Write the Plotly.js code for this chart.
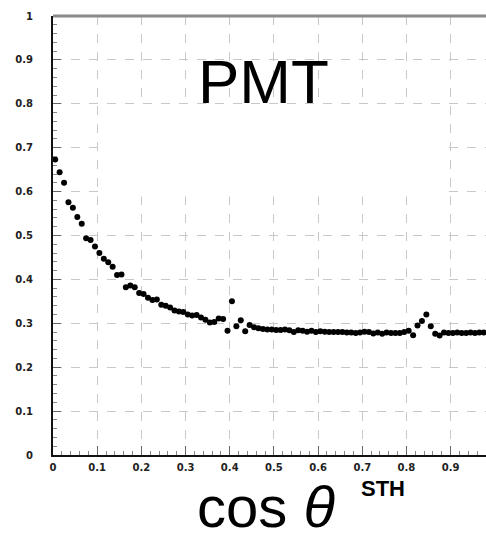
<!DOCTYPE html>
<html>
<head>
<meta charset="utf-8">
<script src="https://cdn.plot.ly/plotly-3.0.1.min.js"></script>
<style>html,body{margin:0;padding:0;background:#fff;}#chart{width:486px;height:538px;}</style>
</head>
<body>
<div id="chart"></div>
<script>
const cosTheta = [0.005,0.015,0.025,0.035,0.045,0.055,0.065,0.075,0.085,0.095,
  0.105,0.115,0.125,0.135,0.145,0.155,0.165,0.175,0.185,0.195,
  0.205,0.215,0.225,0.235,0.245,0.255,0.265,0.275,0.285,0.295,
  0.305,0.315,0.325,0.335,0.345,0.355,0.365,0.375,0.385,0.395,
  0.405,0.415,0.425,0.435,0.445,0.455,0.465,0.475,0.485,0.495,
  0.505,0.515,0.525,0.535,0.545,0.555,0.565,0.575,0.585,0.595,
  0.605,0.615,0.625,0.635,0.645,0.655,0.665,0.675,0.685,0.695,
  0.705,0.715,0.725,0.735,0.745,0.755,0.765,0.775,0.785,0.795,
  0.805,0.815,0.825,0.835,0.845,0.855,0.865,0.875,0.885,0.895,
  0.905,0.915,0.925,0.935,0.945,0.955,0.965,0.975];
const pmtValues = [0.673,0.644,0.620,0.576,0.563,0.542,0.527,0.494,0.490,0.475,
  0.460,0.447,0.439,0.429,0.410,0.411,0.382,0.386,0.382,0.369,
  0.367,0.358,0.353,0.354,0.342,0.340,0.336,0.329,0.327,0.326,
  0.320,0.318,0.319,0.313,0.308,0.302,0.303,0.311,0.310,0.283,
  0.350,0.293,0.307,0.282,0.296,0.291,0.289,0.287,0.286,0.286,
  0.285,0.285,0.286,0.284,0.280,0.284,0.283,0.281,0.283,0.280,
  0.282,0.281,0.280,0.280,0.280,0.280,0.279,0.279,0.278,0.279,
  0.281,0.280,0.277,0.279,0.276,0.279,0.278,0.278,0.278,0.280,
  0.283,0.273,0.295,0.305,0.320,0.293,0.276,0.272,0.279,0.278,
  0.278,0.279,0.278,0.278,0.279,0.278,0.279,0.279];
const xTickVals = [0,0.1,0.2,0.3,0.4,0.5,0.6,0.7,0.8,0.9];
const xTickText = ["0","0.1","0.2","0.3","0.4","0.5","0.6","0.7","0.8","0.9"];
const yTickVals = [0,0.1,0.2,0.3,0.4,0.5,0.6,0.7,0.8,0.9,1];
const yTickText = ["0","0.1","0.2","0.3","0.4","0.5","0.6","0.7","0.8","0.9","1"];

const tickFont = {family:"DejaVu Sans", size:10, color:"#222", weight:"bold"};

const trace = {
  x: cosTheta, y: pmtValues, type:"scatter", mode:"markers",
  marker:{color:"#000", size:6, symbol:"circle"},
  hoverinfo:"skip"
};

const layout = {
  width:486, height:538,
  margin:{l:53, r:0, t:16, b:83},
  paper_bgcolor:"#fff", plot_bgcolor:"#fff",
  showlegend:false,
  xaxis:{
    range:[0,0.98], tickvals:xTickVals, ticktext:xTickText,
    showgrid:true, gridcolor:"#c8c8c8", griddash:"dash", gridwidth:1,
    zeroline:false, showline:true, linecolor:"#111", linewidth:2,
    ticks:"inside", ticklen:9, tickcolor:"#666", tickwidth:1,
    minor:{dtick:0.02, ticks:"inside", ticklen:4, tickcolor:"#888", showgrid:false},
    tickfont:tickFont, ticklabelstandoff:2
  },
  yaxis:{
    range:[0,1], tickvals:yTickVals, ticktext:yTickText,
    showgrid:true, gridcolor:"#c8c8c8", griddash:"dash", gridwidth:1,
    zeroline:false, showline:true, linecolor:"#111", linewidth:2,
    ticks:"inside", ticklen:8, tickcolor:"#666", tickwidth:1,
    minor:{dtick:0.02, ticks:"inside", ticklen:4, tickcolor:"#888", showgrid:false},
    tickfont:tickFont, ticklabelstandoff:16
  },
  shapes:[
    {type:"rect", xref:"paper", yref:"paper", x0:0.108, x1:0.898, y0:0.59, y1:0.795,
     fillcolor:"rgb(255,255,255)", opacity:1, line:{color:"rgb(255,255,255)", width:1}, layer:"above"},
    {type:"line", xref:"paper", yref:"paper", x0:0, x1:1, y0:1, y1:1,
     line:{color:"#8a8a8a", width:3}}
  ],
  annotations:[
    {text:"PMT", xref:"paper", yref:"paper", x:0.485, y:0.85, xanchor:"center", yanchor:"middle",
     showarrow:false, font:{family:"Liberation Sans", size:62, color:"#000"}},
    {text:"cos <i>θ</i>", xref:"paper", yref:"paper", x:0.492, y:-0.118, xanchor:"center", yanchor:"middle",
     showarrow:false, font:{family:"Liberation Sans", size:58, color:"#000"}},
    {text:"<b>STH</b>", xref:"paper", yref:"paper", x:0.762, y:-0.077, xanchor:"center", yanchor:"middle",
     showarrow:false, font:{family:"Liberation Sans", size:22, color:"#000"}}
  ]
};

Plotly.newPlot("chart", [trace], layout, {staticPlot:true, displayModeBar:false});
</script>
</body>
</html>
